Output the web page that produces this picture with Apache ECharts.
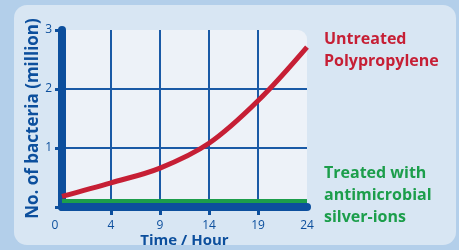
<!DOCTYPE html>
<html>
<head>
<meta charset="utf-8">
<script src="https://cdn.jsdelivr.net/npm/echarts@6/dist/echarts.min.js"></script>
<style>
html,body{margin:0;padding:0;background:#b3cfea;}
#c{width:459px;height:250px;}
</style>
</head>
<body>
<div id="c"></div>
<script>
var categories = ['0', '4', '9', '14', '19', '24'];
var untreated = [0.18, 0.41, 0.66, 1.08, 1.80, 2.71];
var treated = [0.10, 0.10, 0.10, 0.10, 0.10, 0.10];
var yTicks = [0, 1, 2, 3];

var BLUE = '#0c4f9d';
var GRIDC = '#1a5aa6';
var RED = '#c61f35';
var GREEN = '#1c9e4b';
var FONT = 'Open Sans';

var chart = echarts.init(document.getElementById('c'));
chart.setOption({
  backgroundColor: '#b3cfea',
  animation: false,
  graphic: [
    {type: 'rect', z: -10, shape: {x: 14, y: 5, width: 442, height: 240, r: 13},
     style: {fill: '#d8e6f3'}},
    {type: 'rect', z: -9, shape: {x: 62, y: 30, width: 245, height: 177, r: [0, 9, 0, 0]},
     style: {fill: '#edf2f8'}},
    {type: 'text', left: 324, top: 28, style: {text: 'Untreated\nPolypropylene', fill: RED,
      font: 'bold 16px "' + FONT + '"', lineHeight: 22}},
    {type: 'text', left: 324, top: 162, style: {text: 'Treated with\nantimicrobial\nsilver-ions', fill: GREEN,
      font: 'bold 16px "' + FONT + '"', lineHeight: 22}}
  ],
  grid: {left: 62, right: 152, top: 30, bottom: 43, containLabel: false, outerBoundsMode: 'none'},
  xAxis: {
    type: 'category',
    data: categories,
    boundaryGap: false,
    name: 'Time / Hour',
    nameLocation: 'middle',
    nameGap: 26,
    nameMoveOverlap: false,
    nameTextStyle: {color: BLUE, fontSize: 15, fontWeight: 'bold', fontFamily: FONT},
    axisLine: {show: true, onZero: false, lineStyle: {color: BLUE, width: 8}},
    axisTick: {show: true, length: 8, lineStyle: {color: BLUE, width: 3},
      interval: function (i) { return i > 0 && i < 5; }},
    axisLabel: {color: BLUE, fontSize: 12, fontFamily: FONT, margin: 13,
      formatter: function (v, i) { return i === 0 ? '{z|' + v + '}' : v; },
      rich: {z: {padding: [0, 14, 0, 0], color: BLUE, fontSize: 12, fontFamily: FONT}}},
    splitLine: {show: true, lineStyle: {color: GRIDC, width: 2},
      interval: function (i) { return i > 0 && i < 5; }}
  },
  yAxis: {
    type: 'value',
    min: yTicks[0],
    max: yTicks[yTicks.length - 1],
    interval: 1,
    name: 'No. of bacteria (million)',
    nameLocation: 'middle',
    nameGap: 20,
    nameMoveOverlap: false,
    nameTextStyle: {color: BLUE, fontSize: 17, fontWeight: 'bold', fontFamily: FONT},
    axisLine: {show: true, lineStyle: {color: BLUE, width: 8}},
    axisTick: {show: true, length: 7, lineStyle: {color: BLUE, width: 3}},
    axisLabel: {color: BLUE, fontSize: 12, fontFamily: FONT, margin: 10,
      formatter: function (v) { return v === 0 ? '' : String(v); }},
    splitLine: {show: true, lineStyle: {color: ['rgba(0,0,0,0)', GRIDC, GRIDC, 'rgba(0,0,0,0)'], width: 2}}
  },
  series: [
    {type: 'line', name: 'Treated', data: treated, showSymbol: false, z: 3,
     lineStyle: {color: GREEN, width: 4}},
    {type: 'line', name: 'Untreated', data: untreated, smooth: 0.35, showSymbol: false, z: 4,
     lineStyle: {color: RED, width: 5}}
  ]
});
</script>
</body>
</html>
